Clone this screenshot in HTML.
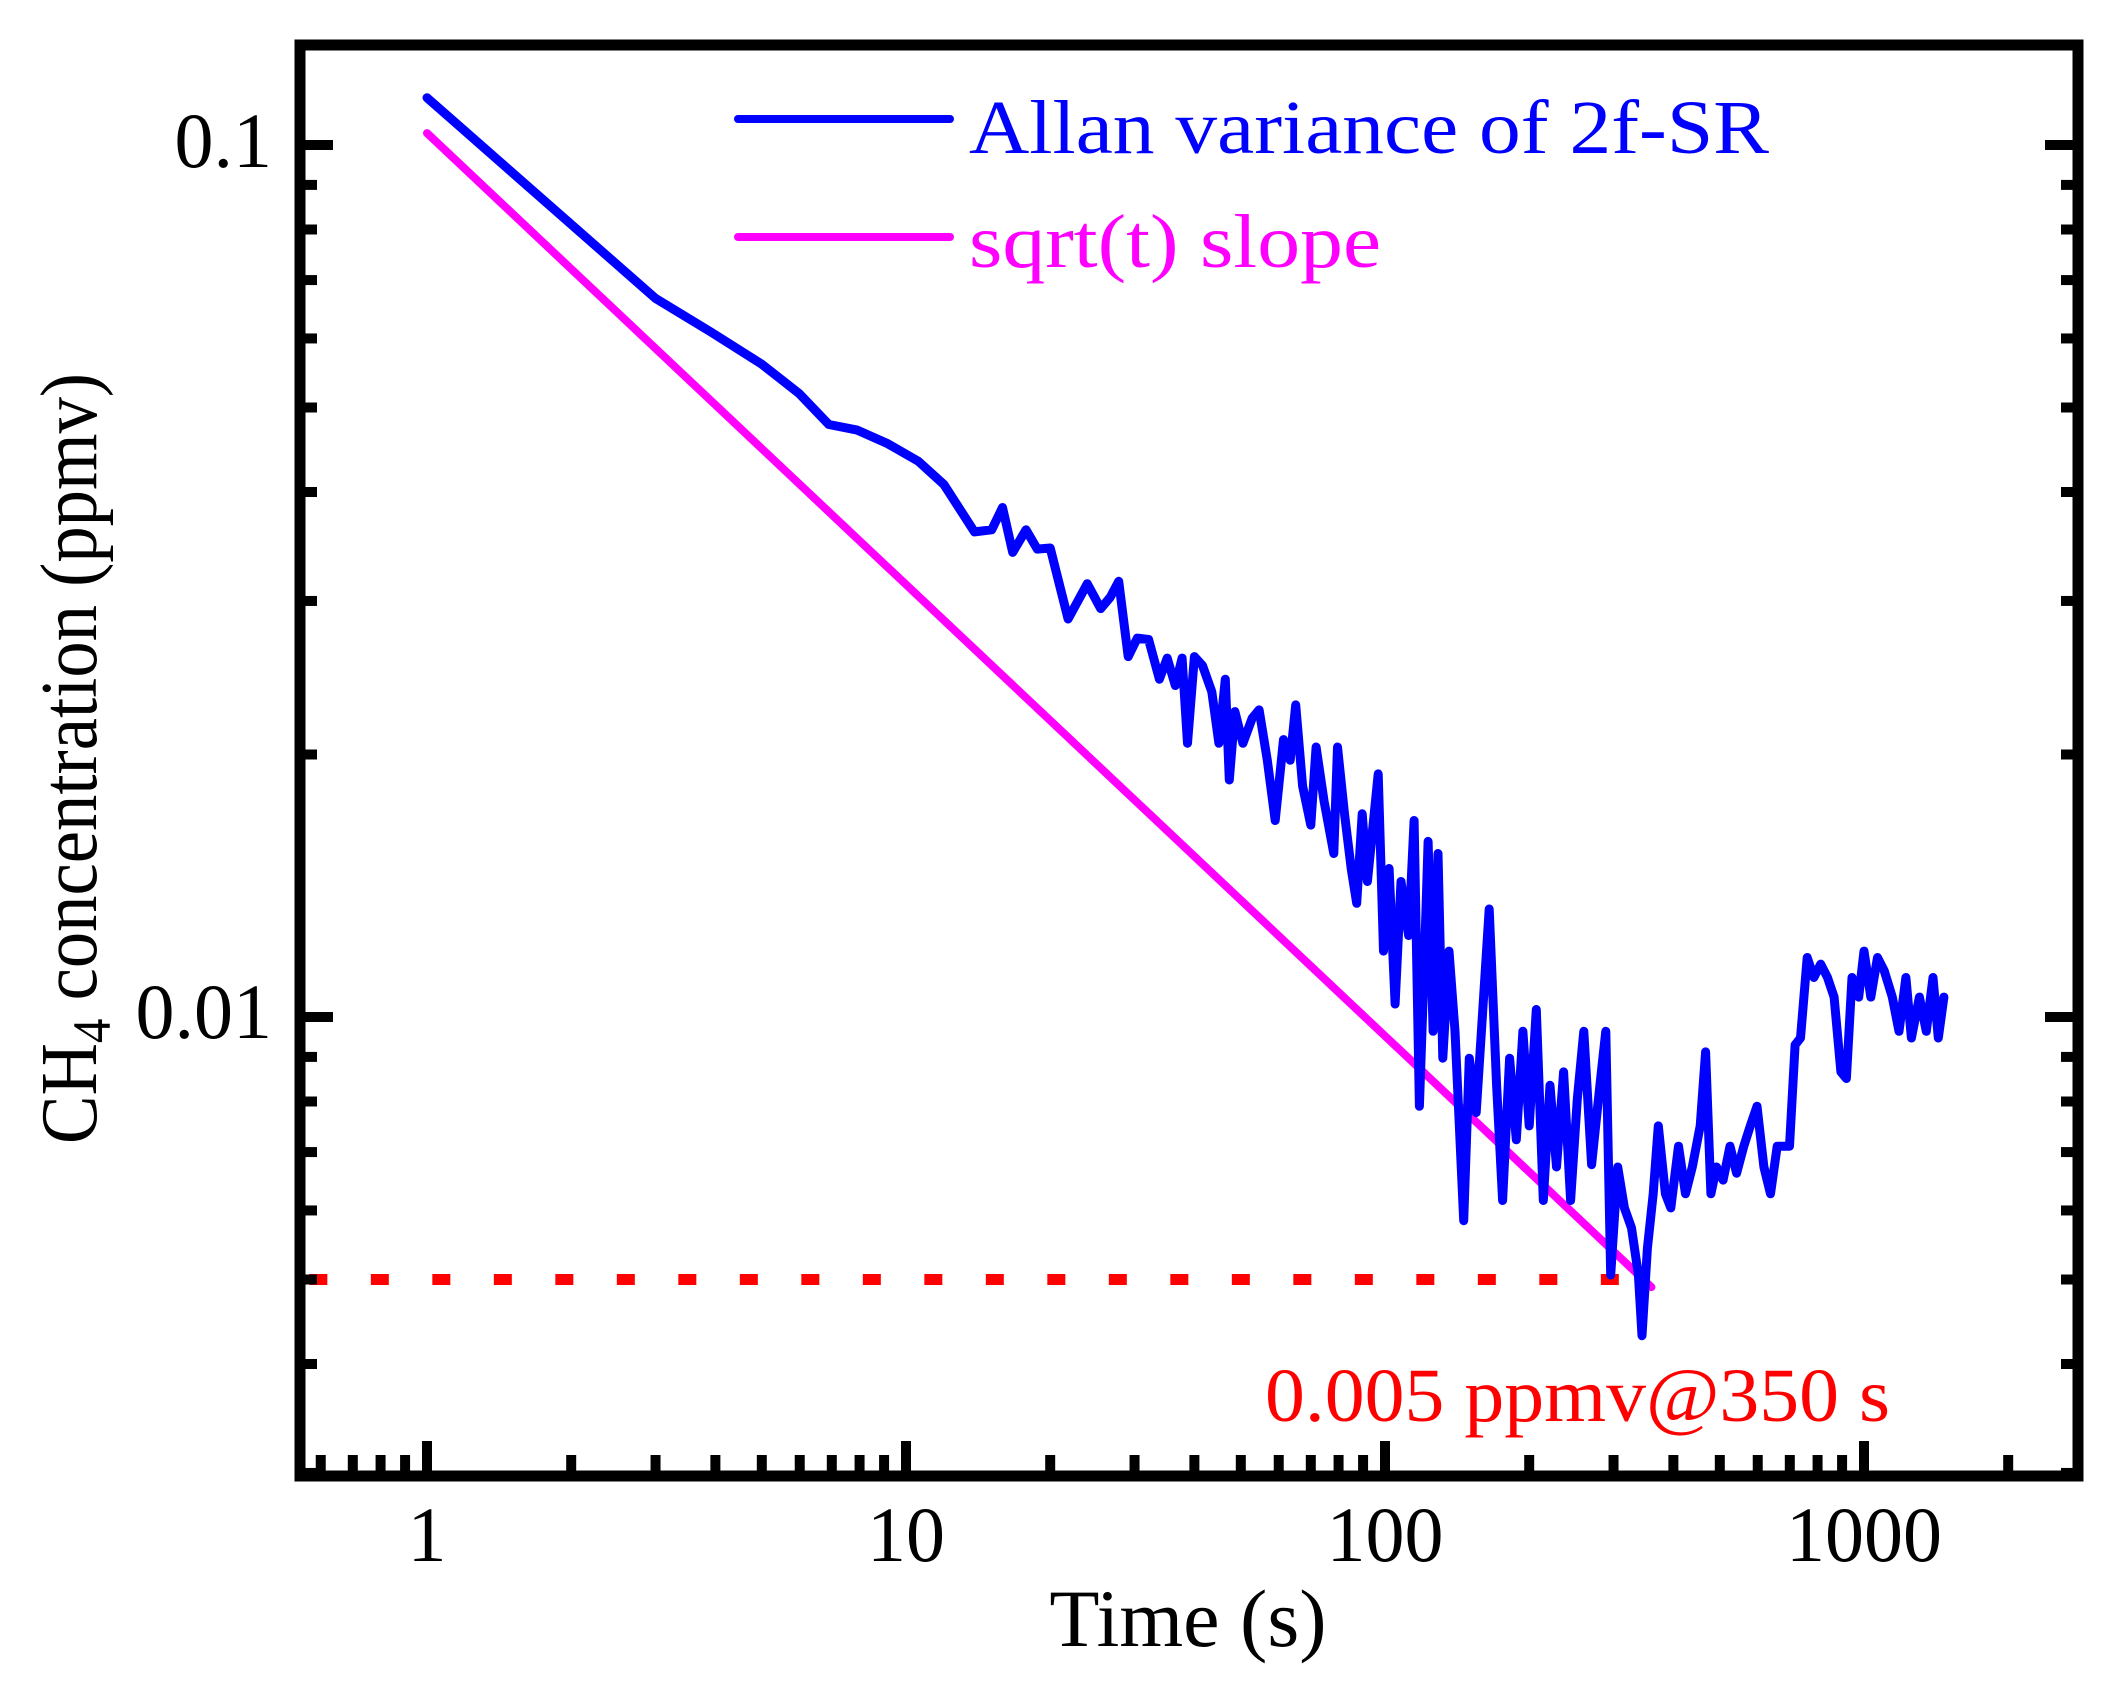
<!DOCTYPE html>
<html><head><meta charset="utf-8"><style>
html,body{margin:0;padding:0;background:#fff}
svg{display:block}
text{font-family:"Liberation Serif",serif}
</style></head><body>
<svg id="chart" width="2117" height="1684" viewBox="0 0 2117 1684" xmlns="http://www.w3.org/2000/svg">
<rect x="0" y="0" width="2117" height="1684" fill="#fff"/>
<g id="marks"></g>
<g id="axes"></g>
<text x="272" y="167" font-size="78" text-anchor="end">0.1</text>
<text x="272" y="1038" font-size="78" text-anchor="end">0.01</text>
<g id="xlabels"></g>
<text x="1188" y="1646" font-size="82" text-anchor="middle">Time (s)</text>
<g transform="translate(96,758) rotate(-90)">
<text x="-386" y="0" font-size="80" textLength="771" lengthAdjust="spacingAndGlyphs">CH<tspan font-size="54" dy="14">4</tspan><tspan dy="-14"> concentration (ppmv)</tspan></text>
</g>
<line x1="738" y1="119" x2="950" y2="119" stroke="#0000ff" stroke-width="8" stroke-linecap="round"/>
<text x="969" y="153" font-size="76" fill="#0000ff" textLength="800" lengthAdjust="spacingAndGlyphs">Allan variance of 2f-SR</text>
<line x1="738" y1="237" x2="950" y2="237" stroke="#ff00ff" stroke-width="8" stroke-linecap="round"/>
<text x="969" y="267" font-size="76" fill="#ff00ff" textLength="412" lengthAdjust="spacingAndGlyphs">sqrt(t) slope</text>
<text x="1265" y="1421" font-size="76" fill="#ff0000" textLength="625" lengthAdjust="spacingAndGlyphs">0.005 ppmv@350 s</text>
<rect x="300" y="45" width="1778" height="1431" fill="none" stroke="#000" stroke-width="11"/>
</svg>
<script>
const timeS = [1,3.0,3.92,4.99,5.98,6.90,7.91,9.12,10.6,12.0,13.9,15.1,15.9,16.7,17.8,18.8,20.0,21.8,23.9,25.5,26.7,27.8,29.1,30.4,32.1,33.8,35.1,36.5,37.7,38.7,40.0,41.6,43.5,45.0,46.4,47.3,48.6,50.5,52.8,54.6,56.8,59.0,61.4,63.4,65.1,67.3,70.0,71.8,74.6,78.2,79.6,82.3,85.0,87.3,89.6,91.9,96.8,99.3,102,105,108,112,115,118,121,123,126,129,132,136,140,146,150,155,160,165,171,176,182,188,194,200,207,214,221,228,236,244,252,260,270,281,289,296,306,316,327,338,344,353,363,372,385,395,410,424,438,455,467,479,492,508,525,542,561,579,598,618,638,659,681,699,718,737,761,786,812,839,866,895,919,944,975,1000,1033,1067,1102,1146,1183,1223,1256,1305,1349,1393,1429,1468,1507];
const allanPpmv = [0.1133,0.0667,0.0610,0.0561,0.0519,0.0478,0.0471,0.0455,0.0434,0.0408,0.0360,0.0362,0.0384,0.0341,0.0362,0.0344,0.0345,0.0286,0.0314,0.0294,0.0303,0.0316,0.0259,0.0272,0.0271,0.0244,0.0258,0.0240,0.0258,0.0206,0.0259,0.0253,0.0236,0.0206,0.0244,0.0187,0.0224,0.0206,0.0220,0.0225,0.0197,0.0168,0.0208,0.0197,0.0228,0.0184,0.0166,0.0204,0.0177,0.0154,0.0204,0.0171,0.0148,0.0135,0.0171,0.0143,0.0190,0.0119,0.0148,0.01035,0.0143,0.0124,0.0168,0.0079,0.0119,0.0159,0.00963,0.0154,0.00897,0.0119,0.00963,0.00584,0.00897,0.00777,0.0102,0.0133,0.00835,0.00616,0.00897,0.00723,0.00963,0.0075,0.0102,0.00616,0.00835,0.00673,0.00865,0.00616,0.00805,0.00963,0.00677,0.00835,0.00963,0.00506,0.00673,0.00604,0.00573,0.00506,0.00431,0.00543,0.00627,0.0075,0.00627,0.00604,0.00711,0.00627,0.00673,0.0075,0.00912,0.00627,0.00673,0.0065,0.00711,0.00662,0.00711,0.0075,0.0079,0.00673,0.00627,0.00711,0.00711,0.00711,0.00929,0.00946,0.0117,0.0111,0.0115,0.0111,0.01054,0.00865,0.0085,0.0111,0.01054,0.0119,0.01054,0.0117,0.0113,0.01054,0.00963,0.0111,0.00946,0.01054,0.00963,0.0111,0.00946,0.01054];
const slopeT = [1,360];
const slopePpmv = [0.1032,0.0049];
const limitT = [0.568,318];
const limitPpmv = [0.005,0.005];
const xTickValues = [1,10,100,1000];
const xTickLabels = ["1","10","100","1000"];
const yTickValues = [0.1,0.01];

const NS="http://www.w3.org/2000/svg";
function xs(t){return 427+479*Math.log10(t);}
function ys(v){return 145+872*(-1-Math.log10(v));}
function mk(tag,attrs,parent){const e=document.createElementNS(NS,tag);for(const k in attrs)e.setAttribute(k,attrs[k]);parent.appendChild(e);return e;}
const marks=document.getElementById('marks');
const axes=document.getElementById('axes');
const xl=document.getElementById('xlabels');

let l=mk('line',{x1:xs(limitT[0]),y1:ys(limitPpmv[0]),x2:xs(limitT[1]),y2:ys(limitPpmv[1]),stroke:'#ff0000','stroke-width':11,'stroke-dasharray':'18 43.5'},marks);



let s=mk('line',{x1:xs(slopeT[0]),y1:ys(slopePpmv[0]),x2:xs(slopeT[1]),y2:ys(slopePpmv[1]),stroke:'#ff00ff','stroke-width':8,'stroke-linecap':'round'},marks);



let d=timeS.map((t,i)=>(i?'L':'M')+xs(t).toFixed(1)+','+ys(allanPpmv[i]).toFixed(1)).join(' ');
let p=mk('path',{d:d,fill:'none',stroke:'#0000ff','stroke-width':9,'stroke-linejoin':'round','stroke-linecap':'round'},marks);



const xMin=0.543,xMax=2780;
for(let dec=-1;dec<=3;dec++){for(let m=1;m<=9;m++){const t=m*Math.pow(10,dec);if(t<xMin||t>xMax)continue;const x=xs(t);const len=m===1?30:16;
 let tk=mk('line',{x1:x,y1:1471,x2:x,y2:1471-len,stroke:'#000','stroke-width':10},axes);
 
 }}
for(let dec=-3;dec<=-1;dec++){for(let m=1;m<=9;m++){const v=m*Math.pow(10,dec);if(v<0.00296||v>0.13)continue;const y=ys(v);const len=m===1?28:12;
 let a=mk('line',{x1:305,y1:y,x2:305+len,y2:y,stroke:'#000','stroke-width':10},axes);
 
 
 let b=mk('line',{x1:2073,y1:y,x2:2073-len,y2:y,stroke:'#000','stroke-width':10},axes);
 
 }}
xTickValues.forEach((t,i)=>{let tx=mk('text',{x:xs(t),y:1561,'font-size':78,'text-anchor':'middle'},xl);tx.textContent=xTickLabels[i];
 
 });
</script>
</body></html>
